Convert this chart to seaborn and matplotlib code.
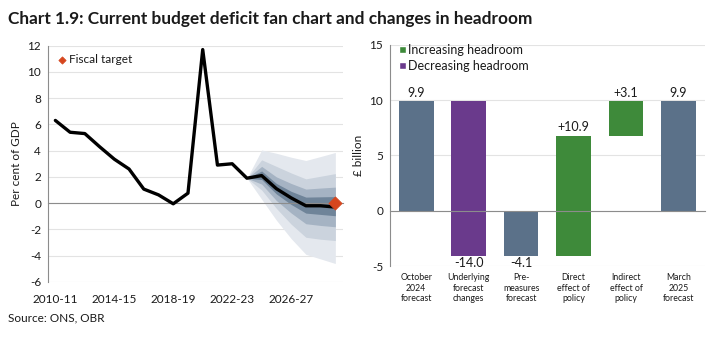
import matplotlib
matplotlib.use("Agg")
import matplotlib.pyplot as plt
import seaborn as sns
import numpy as np
import pandas as pd
from matplotlib.patches import Patch

# ---------------- data ----------------
years = ["2010-11", "2011-12", "2012-13", "2013-14", "2014-15", "2015-16", "2016-17",
         "2017-18", "2018-19", "2019-20", "2020-21", "2021-22", "2022-23", "2023-24",
         "2024-25", "2025-26", "2026-27", "2027-28", "2028-29", "2029-30"]
deficit = [6.3, 5.4, 5.3, 4.3, 3.35, 2.6, 1.07, 0.63, -0.05, 0.76, 11.7, 2.9, 3.0, 1.9,
           2.1, 1.1, 0.4, -0.2, -0.2, -0.3]
fan_years = ["2023-24", "2024-25", "2025-26", "2026-27", "2027-28", "2028-29", "2029-30"]
band1_hi = [1.9, 4.05, 3.8, 3.5, 3.25, 3.55, 3.86]
band1_lo = [1.9, 0.3, -1.3, -2.7, -3.9, -4.25, -4.6]
band2_hi = [1.9, 3.3, 2.8, 2.3, 1.85, 2.05, 2.25]
band2_lo = [1.9, 1.0, -0.4, -1.6, -2.6, -2.75, -2.85]
band3_hi = [1.9, 2.8, 2.0, 1.5, 1.07, 1.15, 1.22]
band3_lo = [1.9, 1.45, 0.2, -0.75, -1.57, -1.7, -1.8]
band4_hi = [1.9, 2.45, 1.5, 0.9, 0.46, 0.48, 0.5]
band4_lo = [1.9, 1.8, 0.7, -0.1, -0.76, -0.86, -0.96]
target_year = ["2029-30"]
target_value = [0.0]
left_ticklabels = ["2010-11", "2014-15", "2018-19", "2022-23", "2026-27"]

hr_categories = ["October\n2024\nforecast", "Underlying\nforecast\nchanges", "Pre-\nmeasures\nforecast",
                 "Direct\neffect of\npolicy", "Indirect\neffect of\npolicy", "March\n2025\nforecast"]
hr_values = [9.9, -14.0, -4.1, 10.9, 3.1, 9.9]
hr_kind = ["total", "change", "total", "change", "change", "total"]

# ---------------- style ----------------
sns.set_theme(style="white")
plt.rcParams["font.family"] = ["Lato", "DejaVu Sans"]
plt.rcParams["axes.unicode_minus"] = False

C_TEXT = "#1a1a1a"
C_AXIS = "#8c8c8c"
C_GRID = "#e3e3e3"
C_SLATE = "#5b7189"
C_PURPLE = "#6a3a8c"
C_GREEN = "#3e8a3a"
C_RED = "#d6461e"
FAN = ["#e4e8ee", "#cbd3dd", "#a5b3c3", "#6f8499"]

fig = plt.figure(figsize=(7.11, 3.38), dpi=100)
axL = fig.add_axes([0.0675, 0.166, 0.4145, 0.699])
axR = fig.add_axes([0.5485, 0.213, 0.4425, 0.654])

# ---------------- left: fan chart ----------------
idx = {y: i for i, y in enumerate(years)}
fx = [idx[y] for y in fan_years]
for (lo, hi), col in zip([(band1_lo, band1_hi), (band2_lo, band2_hi),
                          (band3_lo, band3_hi), (band4_lo, band4_hi)], FAN):
    axL.fill_between(fx, lo, hi, color=col, lw=0, zorder=1)

dfL = pd.DataFrame({"x": range(len(years)), "v": deficit})
sns.lineplot(data=dfL, x="x", y="v", ax=axL, color="black", lw=2.4, zorder=3)
dfT = pd.DataFrame({"x": [idx[y] for y in target_year], "v": target_value})
sns.scatterplot(data=dfT, x="x", y="v", ax=axL, marker="D", s=45, color=C_RED,
                edgecolor=C_RED, zorder=4, label="Fiscal target", clip_on=False)

axL.set_xlim(-0.5, len(years) - 0.5)
axL.set_ylim(-6, 12)
axL.set_yticks(np.arange(-6, 13, 2))
axL.set_ylabel("Per cent of GDP", fontsize=8.5, color=C_TEXT, labelpad=4)
axL.set_xlabel("")
axL.yaxis.grid(True, color=C_GRID, lw=0.8, zorder=0)
axL.set_axisbelow(True)
for s in ["top", "right"]:
    axL.spines[s].set_visible(False)
axL.spines["left"].set_color(C_AXIS)
axL.spines["left"].set_linewidth(0.8)
axL.spines["bottom"].set_position(("data", 0))
axL.spines["bottom"].set_color(C_AXIS)
axL.spines["bottom"].set_linewidth(0.8)
axL.set_xticks(np.arange(-0.5, len(years), 4))
axL.set_xticklabels([])
axL.tick_params(axis="x", direction="out", length=4, color=C_AXIS, width=0.8)
axL.tick_params(axis="y", direction="out", length=3, color=C_AXIS, width=0.8,
                labelsize=8.5, labelcolor=C_TEXT, pad=2)
secL = axL.secondary_xaxis(0)
secL.set_xticks([idx[y] for y in left_ticklabels])
secL.set_xticklabels(left_ticklabels)
secL.tick_params(length=0, labelsize=8.5, labelcolor=C_TEXT, pad=9)
secL.spines["bottom"].set_visible(False)
leg = axL.legend(loc="upper left", frameon=False, fontsize=8.5, handletextpad=0.1,
                 markerscale=0.55, borderaxespad=0.3, handlelength=1.0,
                 bbox_to_anchor=(0.0, 1.0))
for t in leg.get_texts():
    t.set_color(C_TEXT)

# ---------------- right: waterfall ----------------
bottoms, ends = [], []
run = 0.0
for v, k in zip(hr_values, hr_kind):
    if k == "total":
        bottoms.append(0.0)
        run = v
    else:
        bottoms.append(run)
        run = run + v
    ends.append(bottoms[-1] + v)
colors = [C_SLATE if k == "total" else (C_GREEN if v > 0 else C_PURPLE)
          for v, k in zip(hr_values, hr_kind)]

dfR = pd.DataFrame({"cat": hr_categories, "v": hr_values})
sns.barplot(data=dfR, x="cat", y="v", ax=axR, bottom=bottoms, width=0.66,
            color=C_SLATE, saturation=1, zorder=2)
for p, c in zip(axR.patches, colors):
    p.set_facecolor(c)
    p.set_edgecolor("none")

for i, (v, k, b, e) in enumerate(zip(hr_values, hr_kind, bottoms, ends)):
    txt = f"{v:.1f}" if k == "total" else f"{v:+.1f}"
    top, bot = max(b, e), min(b, e)
    if v > 0:
        axR.text(i, top + 0.25, txt, ha="center", va="bottom", fontsize=9, color=C_TEXT)
    else:
        axR.text(i, bot - 0.1, txt, ha="center", va="top", fontsize=9, color=C_TEXT)

axR.set_ylim(-5, 15)
axR.set_xlim(-0.5, len(hr_categories) - 0.5)
axR.set_yticks(np.arange(-5, 16, 5))
axR.set_ylabel("£ billion", fontsize=8.5, color=C_TEXT, labelpad=4)
axR.set_xlabel("")
axR.yaxis.grid(True, color=C_GRID, lw=0.8, zorder=0)
axR.set_axisbelow(True)
for s in ["top", "right"]:
    axR.spines[s].set_visible(False)
axR.spines["left"].set_color(C_AXIS)
axR.spines["left"].set_linewidth(0.8)
axR.spines["bottom"].set_position(("data", 0))
axR.spines["bottom"].set_color(C_AXIS)
axR.spines["bottom"].set_linewidth(0.8)
axR.spines["bottom"].set_zorder(3)
axR.set_xticks(range(len(hr_categories)))
axR.set_xticklabels([])
axR.tick_params(axis="x", length=0)
axR.tick_params(axis="y", direction="out", length=3, color=C_AXIS, width=0.8,
                labelsize=8.5, labelcolor=C_TEXT, pad=2)
secR = axR.secondary_xaxis(0)
secR.set_xticks(range(len(hr_categories)))
secR.set_xticklabels(hr_categories, linespacing=1.25)
secR.tick_params(length=0, labelsize=6.3, labelcolor=C_TEXT, pad=5)
secR.spines["bottom"].set_visible(False)

handles = [Patch(facecolor=C_GREEN, label="Increasing headroom"),
           Patch(facecolor=C_PURPLE, label="Decreasing headroom")]
legR = axR.legend(handles=handles, loc="upper left", frameon=False, fontsize=9,
                  handlelength=0.55, handleheight=0.55, handletextpad=0.2,
                  labelspacing=0.35, borderaxespad=0.3, bbox_to_anchor=(0.0, 1.045))
for t in legR.get_texts():
    t.set_color(C_TEXT)

# ---------------- titles ----------------
fig.text(0.011, 0.967, "Chart 1.9: Current budget deficit fan chart and changes in headroom",
         fontsize=12.4, fontweight="bold", color=C_TEXT, ha="left", va="top")
fig.text(0.011, 0.059, "Source: ONS, OBR", fontsize=8.5, color=C_TEXT, ha="left", va="center")

fig.savefig("out.png", dpi=100)
